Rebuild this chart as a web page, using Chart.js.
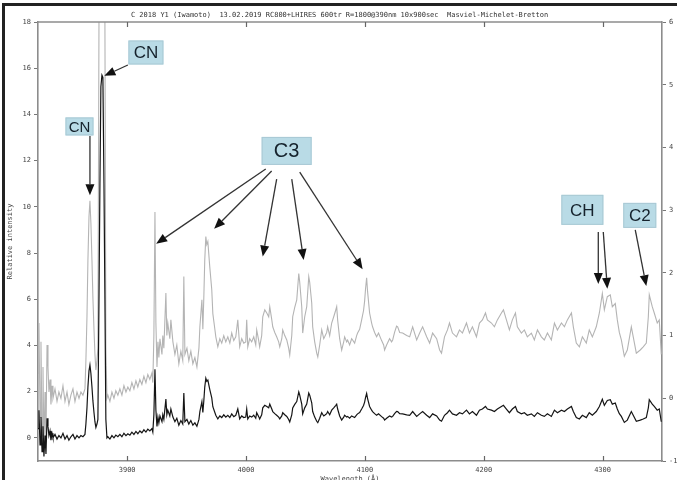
<!DOCTYPE html>
<html><head><meta charset="utf-8">
<script src="https://cdn.jsdelivr.net/npm/chart.js@4"></script>
<style>html,body{margin:0;padding:0;background:#fff;}#wrap{width:679px;height:480px;position:relative;}</style>
</head><body><div id="wrap"><canvas id="c" width="679" height="480"></canvas></div>
<script>
// Wavelength (Å) samples of the comet spectrum
const wavelengths = [
3825.0,3825.8,3826.7,3827.5,3828.4,3829.2,3830.0,3830.9,3831.7,3832.6,3833.4,3834.2,3835.1,3835.9,3836.8,3837.6,
3839.3,3841.0,3842.6,3844.3,3846.0,3847.7,3849.4,3851.0,3852.7,3854.4,3856.1,3857.8,3859.5,3861.1,3862.8,3864.5,
3865.3,3866.2,3867.0,3867.9,3868.7,3869.5,3870.4,3871.2,3872.1,3872.9,3873.7,3874.6,3875.4,3876.3,3877.1,3877.9,
3878.8,3879.6,3880.5,3881.3,3882.1,3883.0,
3883.8,3885.5,3887.2,3888.9,3890.5,3892.2,3893.9,3895.6,3897.3,3899.0,3900.6,3902.3,3904.0,3905.7,3907.4,3909.0,
3910.7,3912.4,3914.1,3915.8,3917.4,3919.1,3920.8,3921.6,3922.5,3923.4,3924.2,3925.1,3925.9,3926.7,3927.6,3929.3,
3930.0,3930.9,3932.6,3933.4,3934.2,3935.9,3936.8,3938.5,3940.2,3941.8,3943.5,3945.2,3946.8,3947.7,3948.6,3950.3,
3951.9,3953.6,3955.3,3957.0,3958.7,3960.4,3961.2,3962.9,3963.7,3964.5,3965.3,3966.2,3967.0,3967.9,3969.5,3971.2,
3972.1,3973.8,3974.6,3976.3,3978.0,3979.6,3981.3,3983.0,3984.7,3986.4,3988.0,3989.7,3991.4,3993.1,3994.7,3996.4,
3998.1,3999.8,4000.6,4001.5,4003.1,4004.8,4006.5,4008.2,4009.0,4010.7,4011.5,4013.2,4014.1,4015.8,4017.5,4019.1,
4020.0,4021.7,4022.5,4024.2,4025.8,4027.5,4028.4,4030.1,4030.9,4032.6,4034.3,4035.9,4036.8,4038.5,4039.3,4041.0,
4042.7,4044.4,4045.2,4046.9,4047.7,4049.4,4051.1,4052.8,4053.6,4055.3,4056.1,4057.8,4059.5,4060.4,4062.0,4063.7,
4065.4,4066.2,4067.9,4068.7,4070.4,4072.1,4073.8,4075.4,4076.3,4077.1,4078.8,4080.5,4082.2,4083.0,4084.7,4085.5,
4087.2,4088.9,4089.7,4091.4,4093.1,4093.9,4095.6,4097.3,4098.9,4099.8,4100.6,4101.5,4102.3,4104.0,4105.7,4106.5,
4108.2,4109.9,4111.5,4114.1,4115.8,4116.6,4118.3,4120.8,4122.5,4123.4,4125.0,4126.7,4127.6,4129.3,4131.8,4135.2,
4137.7,4140.2,4143.6,4146.1,4148.6,4152.0,4154.5,4157.0,4160.4,4162.9,4164.5,4167.0,4169.5,4171.2,4173.7,4177.1,
4179.6,4182.1,4185.5,4188.0,4190.5,4193.9,4196.4,4198.9,4201.5,4203.1,4206.5,4209.0,4211.5,4214.9,4216.6,4219.1,
4221.6,4224.1,4226.7,4228.3,4231.7,4234.2,4236.7,4240.1,4242.6,4245.2,4248.5,4251.0,4253.6,4256.9,4259.5,4262.0,
4265.4,4267.9,4270.4,4273.8,4275.4,4277.9,4280.5,4283.0,4286.3,4288.8,4291.4,4294.7,4297.3,4299.8,4301.5,4304.0,
4306.5,4308.2,4310.7,4312.4,4314.1,4315.8,4318.3,4320.8,4324.2,4325.8,4328.4,4331.7,4334.2,4336.8,4338.5,4339.3,
4341.8,4343.5,4346.0,4347.7,4349.4
];
// Relative intensity at each wavelength
const intensity = [
0.4,1.2,-0.3,0.9,-0.6,0.5,-0.8,0.1,-0.7,0.85,0.5,0.1,0.3,-0.1,0.2,0.0,
0.15,-0.05,0.1,0.0,0.2,-0.05,0.1,-0.1,0.05,0.15,-0.05,0.1,0.0,0.1,0.05,0.15,
0.6,1.3,2.2,2.9,3.15,2.8,2.2,1.6,1.1,0.7,0.45,0.6,0.8,6.0,11.0,15.2,
15.7,15.6,11.0,6.0,0.8,0.0,
0.05,-0.05,0.1,0.0,0.12,0.05,0.15,0.05,0.2,0.1,0.18,0.12,0.25,0.15,0.28,0.18,
0.3,0.22,0.35,0.25,0.38,0.3,0.4,0.25,1.0,2.97,1.2,0.5,0.9,0.65,0.95,0.7,
1.0,0.8,1.68,1.0,1.2,0.95,1.25,0.9,0.7,0.85,0.55,0.75,0.6,1.94,0.7,0.8,
0.6,0.75,0.55,0.65,0.5,0.8,1.14,1.57,1.1,1.6,2.2,2.58,2.45,2.5,2.1,1.73,
1.35,1.1,0.98,0.82,0.95,0.88,1.0,0.9,0.98,0.88,1.04,0.92,0.98,1.25,0.82,0.95,
0.88,0.9,1.25,0.82,0.95,0.9,0.98,0.85,1.09,0.92,0.82,1.0,1.3,1.41,1.36,1.3,
1.46,1.25,1.14,1.05,0.98,0.9,0.82,0.95,1.09,1.0,0.93,0.8,0.69,1.0,1.3,1.45,
1.57,1.99,1.85,1.46,1.04,1.3,1.46,1.94,1.85,1.52,1.14,0.9,0.72,0.66,0.85,1.09,
0.95,0.98,1.05,1.14,1.0,1.2,1.3,1.4,1.46,1.25,0.95,0.77,0.9,0.98,0.9,0.93,
0.85,0.95,0.93,0.88,1.0,1.04,1.1,1.25,1.4,1.55,1.75,1.92,1.7,1.36,1.2,1.14,
1.05,0.98,1.04,0.92,0.85,0.77,0.85,0.95,0.9,0.93,1.05,1.15,1.14,1.05,1.04,1.0,
0.98,1.14,0.93,1.04,1.14,0.98,0.88,1.04,0.95,0.77,0.72,0.98,1.09,1.2,1.04,0.98,
1.09,1.04,1.2,1.04,1.14,0.98,1.2,1.25,1.36,1.25,1.2,1.14,1.25,1.36,1.41,1.25,
1.09,1.25,1.36,1.14,1.04,1.09,0.98,1.04,0.93,1.09,0.98,0.93,1.04,0.93,1.2,1.09,
1.2,1.14,1.25,1.36,1.14,0.88,0.82,0.98,0.88,1.09,0.98,1.14,1.36,1.67,1.41,1.62,
1.65,1.46,1.51,1.25,1.05,0.93,0.67,0.77,1.14,0.98,0.72,0.77,0.82,0.88,1.3,1.65,
1.46,1.36,1.2,1.25,0.7
];
const xTicks = [3900, 4000, 4100, 4200, 4300];
const leftTicks = [0, 2, 4, 6, 8, 10, 12, 14, 16, 18];
const rightTicks = [-1, 0, 1, 2, 3, 4, 5, 6];

// Callout labels: text, box centre (wavelength, left-axis value), arrows [fromλ, fromV, toλ, toV]
const calloutText = ['CN', 'CN', 'C3', 'CH', 'C2'];
const calloutAt = [[3915.8, 16.68], [3859.9, 13.48], [4034.2, 12.42], [4283.0, 9.87], [4331.3, 9.63]];
const calloutArrows = [
  [[3900.6, 16.14, 3880.8, 15.67]],
  [[3868.7, 13.07, 3868.7, 10.5]],
  [[4016.6, 11.64, 3924.4, 8.4], [4021.6, 11.55, 3973.2, 9.05], [4025.8, 11.2, 4014.1, 7.85],
   [4038.5, 11.2, 4048.5, 7.7], [4045.2, 11.5, 4098.1, 7.3]],
  [[4296.4, 8.91, 4296.4, 6.66], [4300.6, 8.91, 4304.0, 6.45]],
  [[4327.5, 9.0, 4336.8, 6.57]]
];

const points = wavelengths.map((w, i) => ({x: w, y: intensity[i]}));
const tickFont = {family: 'DejaVu Sans Mono', size: 7};

const framePlugin = {
  id: 'frame',
  beforeDraw(chart) {
    const c = chart.ctx;
    c.save();
    c.fillStyle = '#fff';
    c.fillRect(0, 0, chart.width, chart.height);
    c.restore();
  },
  afterDraw(chart) {
    const c = chart.ctx, a = chart.chartArea, sx = chart.scales.x;
    c.save();
    c.strokeStyle = '#8c8c8c';
    c.lineWidth = 1.6;
    c.beginPath();
    c.moveTo(a.left, a.top); c.lineTo(a.right, a.top);
    c.stroke();
    c.lineWidth = 1.2;
    c.strokeStyle = '#666';
    xTicks.forEach(v => {
      const px = Math.round(sx.getPixelForValue(v)) + 0.5;
      c.beginPath(); c.moveTo(px, a.bottom); c.lineTo(px, a.bottom - 5); c.stroke();
      c.beginPath(); c.moveTo(px, a.top); c.lineTo(px, a.top + 5); c.stroke();
    });
    c.fillStyle = '#222';
    c.fillRect(2, 3, chart.width - 4, 3);
    c.fillRect(2, 3, 3, chart.height - 3);
    c.restore();
  }
};

const calloutPlugin = {
  id: 'callouts',
  afterDatasetsDraw(chart) {
    const c = chart.ctx, sx = chart.scales.x, sy = chart.scales.y;
    const sizes = [[35, 24, 17], [28, 18, 15], [50, 28, 20], [42, 30, 17], [33, 25, 17]];
    c.save();
    calloutArrows.forEach(list => list.forEach(ar => {
      const x1 = sx.getPixelForValue(ar[0]), y1 = sy.getPixelForValue(ar[1]);
      const x2 = sx.getPixelForValue(ar[2]), y2 = sy.getPixelForValue(ar[3]);
      const ang = Math.atan2(y2 - y1, x2 - x1), L = 11, W = 4.5;
      const bx = x2 - L * Math.cos(ang), by = y2 - L * Math.sin(ang);
      c.strokeStyle = '#333'; c.lineWidth = 1.3;
      c.beginPath(); c.moveTo(x1, y1); c.lineTo(bx, by); c.stroke();
      c.fillStyle = '#111';
      c.beginPath();
      c.moveTo(x2, y2);
      c.lineTo(bx + W * Math.sin(ang), by - W * Math.cos(ang));
      c.lineTo(bx - W * Math.sin(ang), by + W * Math.cos(ang));
      c.closePath(); c.fill();
    }));
    calloutText.forEach((t, i) => {
      const cx = sx.getPixelForValue(calloutAt[i][0]), cy = sy.getPixelForValue(calloutAt[i][1]);
      const [w, h, fs] = sizes[i];
      c.fillStyle = '#b9dbe6';
      c.fillRect(cx - w / 2, cy - h / 2, w, h);
      c.strokeStyle = '#a9c9d4'; c.lineWidth = 1;
      c.strokeRect(cx - w / 2 + 0.5, cy - h / 2 + 0.5, w - 1, h - 1);
      c.fillStyle = '#15222c';
      c.font = fs + 'px "Liberation Sans", Arial, sans-serif';
      c.textAlign = 'center'; c.textBaseline = 'middle';
      c.fillText(t, cx, cy + 1);
    });
    c.restore();
  }
};

new Chart(document.getElementById('c'), {
  type: 'line',
  data: {
    datasets: [
      {label: 'scaled', data: points, yAxisID: 'yR', borderColor: '#b4b4b4', borderWidth: 1.1,
       pointRadius: 0, tension: 0, order: 2},
      {label: 'spectrum', data: points, yAxisID: 'y', borderColor: '#151515', borderWidth: 1.2,
       pointRadius: 0, tension: 0, order: 1}
    ]
  },
  options: {
    responsive: false,
    animation: false,
    events: [],
    layout: {padding: 0},
    plugins: {
      legend: {display: false},
      tooltip: {enabled: false},
      title: {
        display: true,
        text: 'C 2018 Y1 (Iwamoto)  13.02.2019 RC800+LHIRES 600tr R=1800@390nm 10x900sec  Masviel-Michelet-Bretton',
        font: {family: 'DejaVu Sans Mono', size: 7, weight: 'normal'},
        color: '#333',
        padding: {top: 11, bottom: 2.6}
      }
    },
    scales: {
      x: {
        type: 'linear', position: 'bottom', min: 3825, max: 4350,
        afterBuildTicks: s => { s.ticks = xTicks.map(v => ({value: v})); },
        afterFit: s => { s.height = 19; },
        ticks: {font: tickFont, color: '#444', padding: 5, maxRotation: 0, callback: v => String(v)},
        grid: {display: false, drawTicks: false, tickLength: 0},
        border: {display: true, color: '#8c8c8c', width: 1.6},
        title: {display: true, text: 'Wavelength (Å)', font: tickFont, color: '#444', padding: {top: 0, bottom: -3}}
      },
      y: {
        position: 'left', min: -1, max: 18,
        afterBuildTicks: s => { s.ticks = leftTicks.map(v => ({value: v})); },
        afterFit: s => { s.width = 38; },
        ticks: {font: tickFont, color: '#444', padding: 3},
        grid: {drawOnChartArea: false, tickLength: 4, color: '#777'},
        border: {display: true, color: '#8c8c8c', width: 1.6},
        title: {display: true, text: 'Relative intensity', font: tickFont, color: '#444', padding: {top: 6, bottom: 0}}
      },
      yR: {
        position: 'right', min: -1, max: 6,
        afterBuildTicks: s => { s.ticks = rightTicks.map(v => ({value: v})); },
        afterFit: s => { s.width = 17; },
        ticks: {font: tickFont, color: '#444', padding: 3},
        grid: {drawOnChartArea: false, tickLength: 4, color: '#777'},
        border: {display: true, color: '#8c8c8c', width: 1.6}
      }
    }
  },
  plugins: [framePlugin, calloutPlugin]
});
</script></body></html>
